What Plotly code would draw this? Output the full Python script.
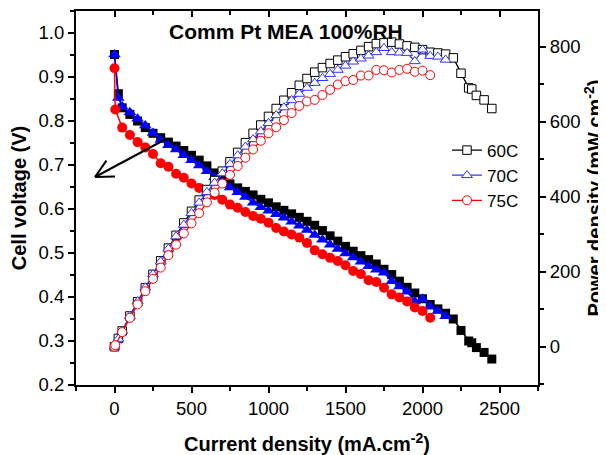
import math
import plotly.graph_objects as go

# ---------------- data ----------------
I_60 = [0, 25, 50, 100, 150, 200, 250, 300, 350, 400, 450, 500, 550, 600, 650, 700, 750, 800,
        850, 900, 950, 1000, 1050, 1100, 1150, 1200, 1250, 1300, 1350, 1400, 1450, 1500, 1550,
        1600, 1650, 1700, 1750, 1800, 1850, 1900, 1950, 2000, 2050, 2100, 2150, 2200, 2250,
        2300, 2320, 2350, 2400, 2450]
V_60 = [0.951, 0.862, 0.830, 0.815, 0.800, 0.785, 0.772, 0.762, 0.752, 0.743, 0.733, 0.722,
        0.711, 0.698, 0.682, 0.668, 0.657, 0.648, 0.640, 0.632, 0.622, 0.614, 0.605, 0.597,
        0.589, 0.581, 0.572, 0.563, 0.551, 0.539, 0.527, 0.515, 0.504, 0.494, 0.485, 0.475,
        0.463, 0.451, 0.436, 0.422, 0.409, 0.396, 0.383, 0.373, 0.363, 0.350, 0.324, 0.300,
        0.296, 0.285, 0.274, 0.259]
P_60 = [0, 22, 42, 82, 120, 157, 193, 229, 263, 297, 330, 361, 391, 419, 443, 468, 493, 518,
        544, 569, 591, 614, 635, 657, 677, 697, 715, 732, 744, 755, 764, 773, 781, 790, 800,
        808, 810, 812, 807, 802, 798, 792, 785, 783, 780, 770, 729, 690, 687, 670, 658, 635]

I_70 = [0, 25, 50, 100, 150, 200, 250, 300, 350, 400, 450, 500, 550, 600, 650, 700, 750, 800,
        850, 900, 950, 1000, 1050, 1100, 1150, 1200, 1250, 1300, 1350, 1400, 1450, 1500, 1550,
        1600, 1650, 1700, 1750, 1800, 1850, 1900, 1950, 2000, 2050, 2100, 2150]
V_70 = [0.951, 0.852, 0.833, 0.820, 0.805, 0.790, 0.773, 0.757, 0.745, 0.735, 0.722, 0.711,
        0.699, 0.686, 0.672, 0.660, 0.649, 0.638, 0.627, 0.614, 0.604, 0.596, 0.588, 0.580,
        0.571, 0.562, 0.552, 0.541, 0.530, 0.519, 0.509, 0.499, 0.490, 0.480, 0.470, 0.462,
        0.455, 0.436, 0.424, 0.412, 0.390, 0.396, 0.378, 0.368, 0.356]
P_70 = [0, 21, 42, 82, 121, 158, 193, 227, 261, 294, 325, 356, 384, 412, 437, 462, 487, 510,
        533, 553, 574, 596, 617, 638, 657, 674, 690, 703, 716, 727, 738, 749, 760, 768, 776,
        785, 796, 785, 784, 783, 761, 792, 775, 773, 765]

I_75 = [0, 5, 50, 100, 150, 200, 250, 300, 350, 400, 450, 500, 550, 600, 650, 700, 750, 800,
        850, 900, 950, 1000, 1050, 1100, 1150, 1200, 1250, 1300, 1350, 1400, 1450, 1500, 1550,
        1600, 1650, 1700, 1750, 1800, 1850, 1900, 1950, 2000, 2050]
V_75 = [0.920, 0.826, 0.785, 0.768, 0.752, 0.740, 0.725, 0.704, 0.696, 0.680, 0.671, 0.658,
        0.648, 0.642, 0.632, 0.621, 0.610, 0.603, 0.593, 0.584, 0.578, 0.569, 0.557, 0.549,
        0.542, 0.535, 0.523, 0.506, 0.497, 0.489, 0.482, 0.472, 0.459, 0.452, 0.438, 0.434,
        0.421, 0.406, 0.399, 0.390, 0.376, 0.368, 0.353]
P_75 = [0, 4, 39, 77, 113, 148, 181, 211, 244, 272, 302, 329, 356, 385, 411, 435, 458, 482,
        504, 526, 549, 569, 585, 604, 623, 642, 654, 658, 671, 685, 699, 708, 711, 723, 723,
        738, 737, 731, 738, 741, 733, 736, 724]

SERIES_NAMES = ["60C", "70C", "75C"]
X_TICKS = [0, 500, 1000, 1500, 2000, 2500]
Y_TICKS = [0.2, 0.3, 0.4, 0.5, 0.6, 0.7, 0.8, 0.9, 1.0]
Y2_TICKS = [0, 200, 400, 600, 800]

# ---------------- layout constants ----------------
# target plot area in window pixels; the page body adds an 8 px offset
OFF = 8
WIN_W, WIN_H = 606, 455
L, R, T, B = 76, 538, 11, 385
W, H = WIN_W - OFF, WIN_H - OFF
ML, MT = L - OFF, T - OFF
MR, MB = W - (R - OFF), H - (B - OFF)
XR = [-250, 2750]
YR = [0.2, 1.05]
Y2R = [-102, 895]
FONT = "Arial, Liberation Sans, sans-serif"

fig = go.Figure()

pol_styles = [("black", "square", 9), ("#0000ff", "triangle-up", 11), ("#ff0000", "circle", 10)]
pow_styles = [("black", "square", 8.5), ("#3333ff", "triangle-up", 9.5), ("#ff0000", "circle", 9)]

pol = [(I_60, V_60), (I_70, V_70), (I_75, V_75)]
pwr = [(I_60, P_60), (I_70, P_70), (I_75, P_75)]

for (x, y), (c, s, sz), name in zip(pol, pol_styles, SERIES_NAMES):
    fig.add_trace(go.Scatter(x=x, y=y, mode="lines+markers", name=name, showlegend=False,
                             line=dict(color=c, width=1.5),
                             marker=dict(symbol=s, size=sz, color=c, line=dict(width=0))))

for (x, y), (c, s, sz), name in zip(pwr, pow_styles, SERIES_NAMES):
    fig.add_trace(go.Scatter(x=x, y=y, mode="lines+markers", name=name, yaxis="y2",
                             line=dict(color=c, width=1.3),
                             marker=dict(symbol=s, size=sz, color="white",
                                         line=dict(color=c, width=1))))

# dummy trace so the top (mirror) axis is drawn
fig.add_trace(go.Scatter(x=[None], y=[None], xaxis="x2", showlegend=False, hoverinfo="skip"))

tickfont = dict(family=FONT, size=18.5, color="black")
titlefont = dict(family=FONT, size=20, color="black")

fig.update_layout(
    width=W, height=H,
    margin=dict(l=ML, r=MR, t=MT, b=MB),
    paper_bgcolor="white", plot_bgcolor="white",
    font=dict(family=FONT, color="black"),
    xaxis=dict(range=XR, tickvals=X_TICKS, ticks="outside", ticklen=6, tickwidth=2,
               tickcolor="black", showline=True, linewidth=2, linecolor="black",
               showgrid=False, zeroline=False, tickfont=tickfont,
               minor=dict(ticks="outside", ticklen=4, tickwidth=2, tickcolor="black",
                          dtick=250, tick0=0, showgrid=False),
               title=dict(text="<b>Current density (mA.cm<sup>-2</sup>)</b>", font=titlefont,
                          standoff=20)),
    xaxis2=dict(range=XR, overlaying="x", side="top", tickvals=X_TICKS, ticks="inside",
                ticklen=6, tickwidth=2, tickcolor="black", showline=True, linewidth=2,
                linecolor="black", showgrid=False, zeroline=False, showticklabels=False,
                minor=dict(ticks="inside", ticklen=4, tickwidth=2, tickcolor="black",
                           dtick=250, tick0=0, showgrid=False)),
    yaxis=dict(range=YR, tickvals=Y_TICKS, tickformat=".1f", ticks="outside", ticklen=6,
               tickwidth=2, tickcolor="black", showline=True, linewidth=2, linecolor="black",
               showgrid=False, zeroline=False, tickfont=tickfont,
               minor=dict(ticks="outside", ticklen=4, tickwidth=2, tickcolor="black",
                          dtick=0.05, tick0=0.2, showgrid=False),
               title=dict(text="<b>Cell voltage (V)</b>", font=titlefont, standoff=8)),
    yaxis2=dict(range=Y2R, tickvals=Y2_TICKS, overlaying="y", side="right", ticks="outside",
                ticklen=6, tickwidth=2, tickcolor="black", showline=True, linewidth=2,
                linecolor="black", showgrid=False, zeroline=False, tickfont=tickfont,
                minor=dict(ticks="outside", ticklen=4, tickwidth=2, tickcolor="black",
                           dtick=100, tick0=0, showgrid=False),
                title=dict(text="<b>Power density (mW.cm<sup>-2</sup>)</b>", font=titlefont,
                           standoff=9)),
    legend=dict(x=0.803, y=0.675, xanchor="left", yanchor="top", bgcolor="rgba(0,0,0,0)",
                font=dict(family=FONT, size=17, color="black"), tracegroupgap=0),
)

pw = R - L
ph = B - T

# title as annotation (window coords -> paper coords)
fig.add_annotation(text="<b>Comm Pt MEA 100%RH</b>", xref="paper", yref="paper",
                   x=(286 - L) / pw, y=(B - 31.7) / ph,
                   showarrow=False, font=dict(family=FONT, size=21, color="black"),
                   xanchor="center", yanchor="middle")

# arrow pointing to the left axis (pixel geometry -> data coords)
def px2x(px):
    return XR[0] + (px - L) / pw * (XR[1] - XR[0])
def py2y(py):
    return YR[1] - (py - T) / ph * (YR[1] - YR[0])

tip = (95, 177)
tail = (166, 139)
ang = math.atan2(tail[1] - tip[1], tail[0] - tip[0])
arm = 20
spread = math.radians(27)
arms = [(tip[0] + arm * math.cos(ang + d), tip[1] + arm * math.sin(ang + d)) for d in (spread, -spread)]

line_style = dict(color="black", width=2)
fig.add_shape(type="line", x0=px2x(tail[0]), y0=py2y(tail[1]), x1=px2x(tip[0]), y1=py2y(tip[1]),
              xref="x", yref="y", line=line_style)
for ax_, ay_ in arms:
    fig.add_shape(type="line", x0=px2x(tip[0]), y0=py2y(tip[1]), x1=px2x(ax_), y1=py2y(ay_),
                  xref="x", yref="y", line=line_style)

fig.write_html("out.html")
